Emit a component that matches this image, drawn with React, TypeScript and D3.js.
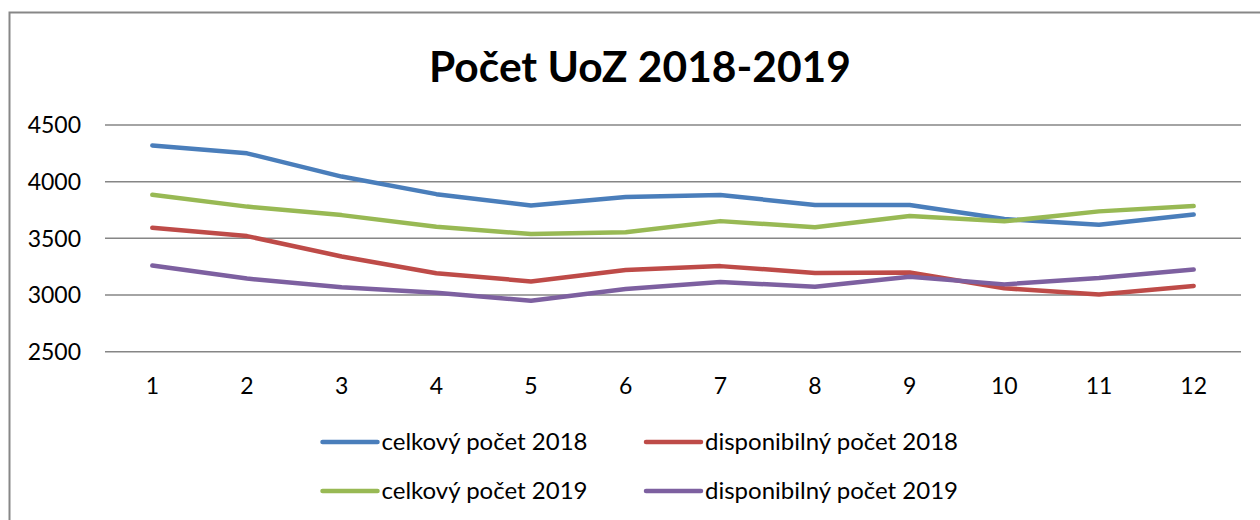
import React from "react";
import * as d3 from "d3";

const categories = ["1", "2", "3", "4", "5", "6", "7", "8", "9", "10", "11", "12"];
const celkovy2018 = [4320, 4250, 4045, 3890, 3790, 3865, 3882, 3795, 3795, 3670, 3620, 3710];
const disponibilny2018 = [3593, 3520, 3340, 3192, 3120, 3220, 3255, 3195, 3198, 3060, 3005, 3080];
const celkovy2019 = [3885, 3780, 3705, 3602, 3538, 3553, 3652, 3597, 3697, 3650, 3738, 3785];
const disponibilny2019 = [3260, 3145, 3068, 3020, 2950, 3053, 3115, 3073, 3162, 3094, 3150, 3225];
const yTicks = [2500, 3000, 3500, 4000, 4500];
const seriesNames = ["celkový počet 2018", "disponibilný počet 2018", "celkový počet 2019", "disponibilný počet 2019"];
const seriesColors = ["#4A7EBB", "#BE4B48", "#98B954", "#7D60A0"];
const title = "Počet UoZ 2018-2019";

const FONT = "Lato, 'Open Sans', sans-serif";

export default function App() {
  const W = 1260, H = 520;
  const left = 105, right = 1241, top = 125, bottom = 351.7;
  const x = d3.scaleBand().domain(categories).range([left, right]);
  const y = d3.scaleLinear().domain([2500, 4500]).range([bottom, top]);
  const series = [celkovy2018, disponibilny2018, celkovy2019, disponibilny2019];
  const line = d3
    .line<number>()
    .x((_, i) => (x(categories[i]) as number) + x.bandwidth() / 2)
    .y((v) => y(v));
  const legendPos = [
    { lx: 322.5, ly: 442 },
    { lx: 646, ly: 442 },
    { lx: 322.5, ly: 491 },
    { lx: 646, ly: 491 },
  ];
  return (
    <svg width={W} height={H} style={{ position: "absolute", left: 0, top: 0, background: "#fff" }} fontFamily={FONT}>
      <rect x={0} y={0} width={W} height={H} fill="#fff" />
      <rect x={9.5} y={12.5} width={1400} height={700} fill="none" stroke="#878787" strokeWidth={2} />
      <text x={640} y={82} textAnchor="middle" fontSize={42.5} fontWeight="bold" fill="#000">
        {title}
      </text>
      {yTicks.map((t) => (
        <g key={t}>
          <line x1={left} x2={right} y1={y(t)} y2={y(t)} stroke="#868686" strokeWidth={1.5} />
          <text x={81} y={y(t) + 8.3} textAnchor="end" fontSize={23} fill="#000">
            {t}
          </text>
        </g>
      ))}
      {categories.map((c) => (
        <text key={c} x={(x(c) as number) + x.bandwidth() / 2} y={394} textAnchor="middle" fontSize={23} fill="#000">
          {c}
        </text>
      ))}
      {series.map((s, i) => (
        <path
          key={i}
          d={line(s) as string}
          fill="none"
          stroke={seriesColors[i]}
          strokeWidth={4.5}
          strokeLinejoin="round"
          strokeLinecap="round"
        />
      ))}
      {seriesNames.map((n, i) => (
        <g key={n}>
          <line
            x1={legendPos[i].lx}
            x2={legendPos[i].lx + 55}
            y1={legendPos[i].ly}
            y2={legendPos[i].ly}
            stroke={seriesColors[i]}
            strokeWidth={4.5}
            strokeLinecap="round"
          />
          <text x={legendPos[i].lx + 59} y={legendPos[i].ly + 7.5} fontSize={24} fill="#000">
            {n}
          </text>
        </g>
      ))}
    </svg>
  );
}
